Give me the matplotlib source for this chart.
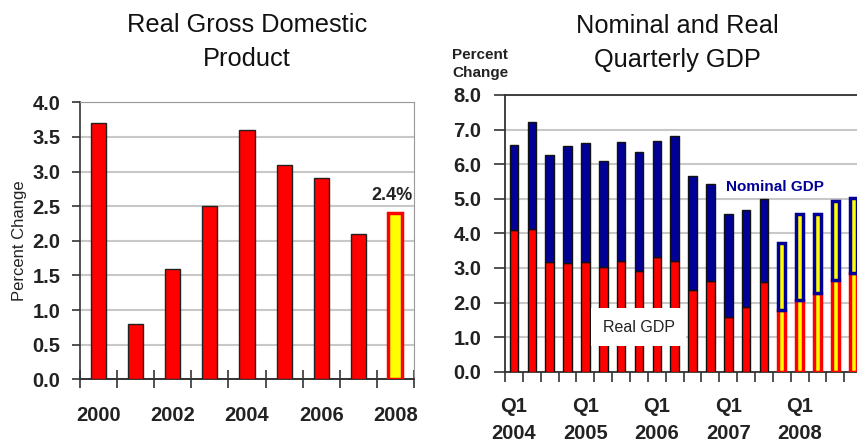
import matplotlib
matplotlib.use("Agg")
import matplotlib.pyplot as plt
import numpy as np

plt.rcParams['font.family'] = ['Liberation Sans', 'DejaVu Sans']
NARROW = ['Liberation Sans Narrow', 'Liberation Sans', 'DejaVu Sans']

# Annual real GDP growth
years = ['2000', '2001', '2002', '2003', '2004', '2005', '2006', '2007', '2008']
annual_growth = [3.7, 0.8, 1.6, 2.5, 3.6, 3.1, 2.9, 2.1, 2.4]
annual_forecast = [False] * 8 + [True]
annual_tick_labels = ['2000', '', '2002', '', '2004', '', '2006', '', '2008']

# Quarterly growth, Q1 2004 .. Q4 2008
nominal_gdp = [6.55, 7.23, 6.27, 6.52, 6.60, 6.09, 6.64, 6.36, 6.68, 6.82,
               5.66, 5.42, 4.56, 4.67, 4.99, 3.72, 4.55, 4.55, 4.94, 5.02]
real_gdp = [4.10, 4.14, 3.17, 3.13, 3.17, 3.02, 3.21, 2.90, 3.33, 3.21,
            2.35, 2.63, 1.57, 1.88, 2.58, 1.79, 2.07, 2.27, 2.65, 2.85]
quarter_forecast = [False] * 15 + [True] * 5
quarter_tick_labels = ['Q1\n2004', 'Q1\n2005', 'Q1\n2006', 'Q1\n2007', 'Q1\n2008']

RED = '#ff0000'
NAVY = '#000096'
YELLOW = '#ffff00'
GRID = '#c8c8c8'
SPINE = '#333333'

W, H = 857, 447
fig = plt.figure(figsize=(W / 100, H / 100), dpi=100)


def px_axes(x0, y_top, x1, y_bot):
    return fig.add_axes([x0 / W, 1 - y_bot / H, (x1 - x0) / W, (y_bot - y_top) / H])


# ---------------- Left: annual real GDP ----------------
ax1 = px_axes(80, 102.3, 414, 379.3)
xa = np.arange(len(years))
for x, v, fc in zip(xa, annual_growth, annual_forecast):
    if fc:
        ax1.bar(x, v, width=0.38, color=YELLOW, edgecolor=RED, linewidth=2.5, zorder=3)
    else:
        ax1.bar(x, v, width=0.41, color=RED, edgecolor='#222222', linewidth=1.0, zorder=3)

ax1.text(xa[-1] - 0.08, annual_growth[-1] + 0.26, f'{annual_growth[-1]}%',
         ha='center', va='center', fontsize=13, fontweight='bold', color='#222222')

ax1.set_xlim(-0.5, 8.5)
ax1.set_ylim(0, 4.0)
ax1.set_yticks(np.arange(0, 4.01, 0.5))
ax1.set_yticklabels([f'{v:.1f}' for v in np.arange(0, 4.01, 0.5)])
ax1.set_xticks(xa)
ax1.set_xticklabels(annual_tick_labels)
ax1.set_xticks(np.arange(-0.5, 8.6, 1.0), minor=True)
ax1.tick_params(axis='x', which='major', length=0, pad=19.5, labelsize=14.5)
ax1.tick_params(axis='x', which='minor', length=13, direction='inout', width=1.2, color=SPINE)
ax1.tick_params(axis='y', length=6, width=1.2, color=SPINE, pad=8, labelsize=14.5)
for lab in ax1.get_xticklabels() + ax1.get_yticklabels():
    lab.set_fontweight('bold')
    lab.set_color('#222222')
ax1.yaxis.grid(True, color=GRID, linewidth=1.5, zorder=0)
ax1.set_axisbelow(True)
ax1.spines['left'].set_color(SPINE)
ax1.spines['bottom'].set_color(SPINE)
ax1.spines['left'].set_linewidth(1.2)
ax1.spines['bottom'].set_linewidth(1.4)
ax1.spines['top'].set_color('#999999')
ax1.spines['right'].set_color('#999999')
ax1.set_ylabel('Percent Change', fontsize=12, family=NARROW, color='#222222', labelpad=4)

fig.text(247 / W, 1 - 42 / H, 'Real Gross Domestic\nProduct', ha='center', va='center',
         fontsize=18.3, linespacing=1.55, color='#111111')

# ---------------- Right: quarterly nominal and real GDP ----------------
ax2 = px_axes(505, 95, 505 + 20.95 * 17.9, 371.7)
xq = np.arange(len(nominal_gdp))
bw = 0.48
for x, nom, real, fc in zip(xq, nominal_gdp, real_gdp, quarter_forecast):
    if fc:
        ax2.bar(x, real, width=bw - 0.08, color=YELLOW, edgecolor=RED, linewidth=2.5, zorder=3)
        ax2.bar(x, nom - real, bottom=real, width=bw - 0.08, color=YELLOW,
                edgecolor=NAVY, linewidth=2.5, zorder=3)
    else:
        ax2.bar(x, real, width=bw, color=RED, edgecolor='#111111', linewidth=1.0, zorder=3)
        ax2.bar(x, nom - real, bottom=real, width=bw, color=NAVY,
                edgecolor='#111111', linewidth=1.0, zorder=3)

ax2.text(14.6, 5.33, 'Nominal GDP', ha='center', va='center', fontsize=11,
         fontweight='bold', color=NAVY, family=NARROW)
ax2.text(7.0, 1.28, 'Real GDP', ha='center', va='center', fontsize=11.5, color='#222222',
         zorder=5,
         bbox=dict(boxstyle='square,pad=0.72', facecolor='white', edgecolor='none'))

ax2.set_xlim(-0.45, 20.5)
ax2.set_ylim(0, 8.0)
ax2.set_yticks(np.arange(0, 8.01, 1.0))
ax2.set_yticklabels([f'{v:.1f}' for v in np.arange(0, 8.01, 1.0)])
ax2.set_xticks(xq[::4])
ax2.set_xticklabels(quarter_tick_labels)
ax2.set_xticks(np.arange(-0.5, 20.6, 1.0), minor=True)
ax2.tick_params(axis='x', which='major', length=0, pad=18, labelsize=14.5)
ax2.tick_params(axis='x', which='minor', length=7, direction='out', width=1.2, color=SPINE)
ax2.tick_params(axis='y', length=8, width=1.2, color=SPINE, pad=9, labelsize=14.5)
for lab in ax2.get_xticklabels():
    lab.set_fontweight('bold')
    lab.set_color('#222222')
    lab.set_linespacing(1.55)
for lab in ax2.get_yticklabels():
    lab.set_fontweight('bold')
    lab.set_color('#222222')
ax2.yaxis.grid(True, color=GRID, linewidth=1.5, zorder=0)
ax2.set_axisbelow(True)
for side in ('left', 'bottom', 'top'):
    ax2.spines[side].set_color(SPINE)
    ax2.spines[side].set_linewidth(1.3)
ax2.spines['right'].set_visible(False)

fig.text(480 / W, 1 - 64 / H, 'Percent\nChange', ha='center', va='center', fontsize=11,
         fontweight='bold', family=NARROW, linespacing=1.45, color='#222222')
fig.text(677 / W, 1 - 43 / H, 'Nominal and Real\nQuarterly GDP', ha='center', va='center',
         fontsize=18.3, linespacing=1.55, color='#111111')

fig.savefig('out.png', dpi=100)
